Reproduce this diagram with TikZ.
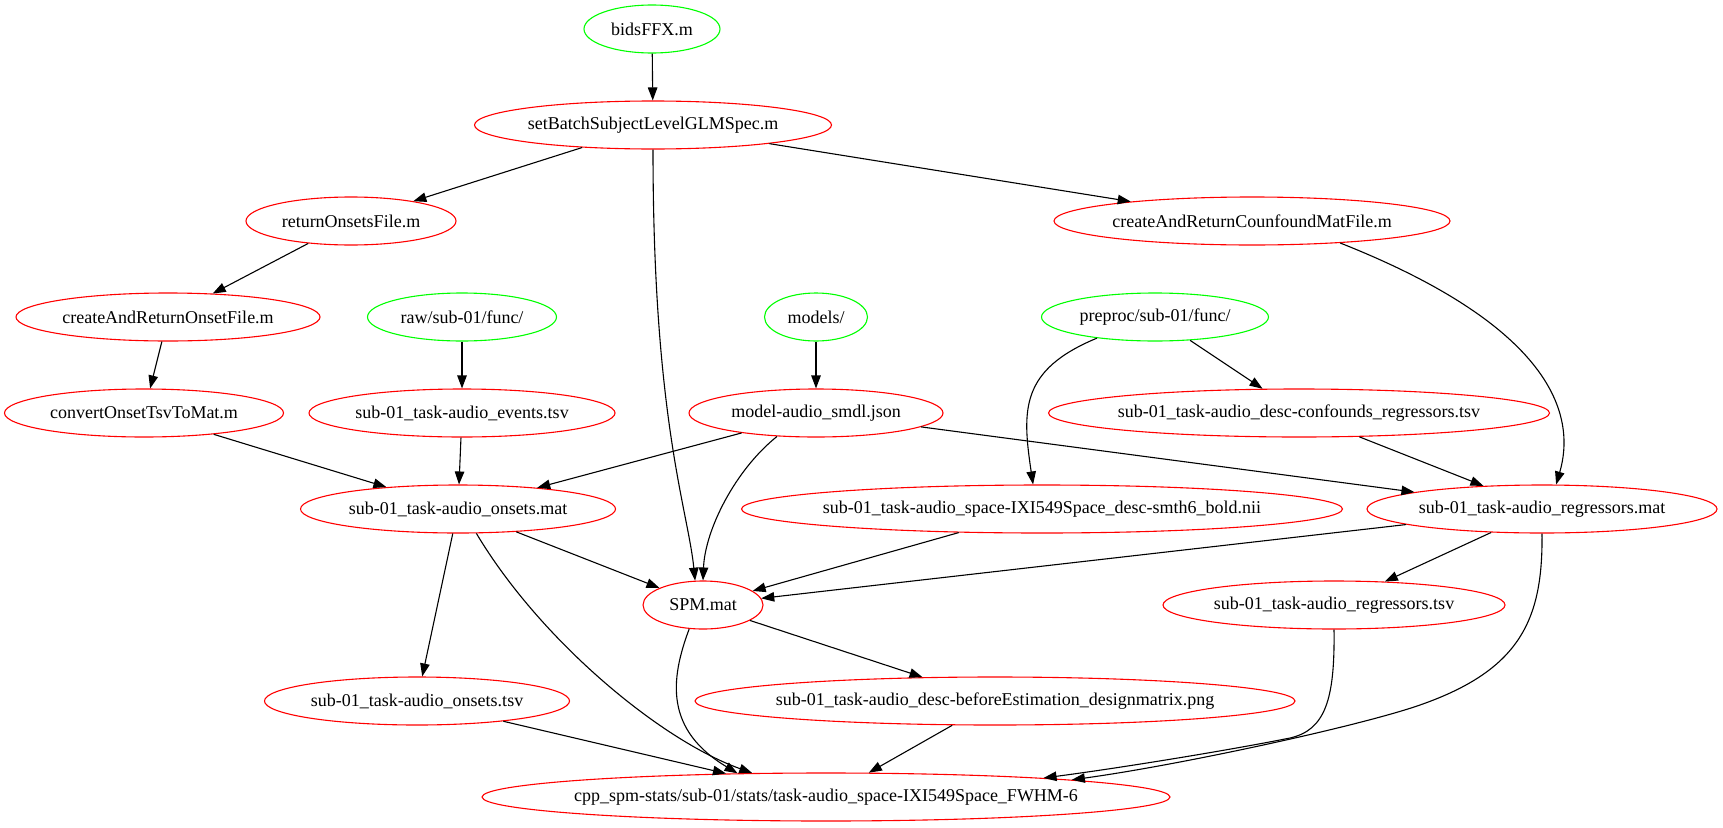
\documentclass[tikz,border=0pt]{standalone}
\usepackage{fontspec}
\setmainfont{Liberation Serif}
\usetikzlibrary{arrows.meta, shapes.geometric}
\definecolor{gvred}{RGB}{255,0,0}
\definecolor{gvgreen}{RGB}{0,255,0}

\begin{document}
\begin{tikzpicture}[
    x=1pt, y=-1pt,
    file/.style={ellipse, draw=gvred, line width=1.1pt, inner xsep=-60pt, inner ysep=0pt, minimum height=48pt, font=\fontsize{18}{20}\selectfont},
    input/.style={file, draw=gvgreen},
    arr/.style={-{Triangle[length=13pt, width=9.5pt]}, line width=1.1pt},
]
\useasboundingbox (0,0) rectangle (1723,827);

% Scripts and source folders
\node[input, minimum width=136pt] (bids) at (652,29) {bidsFFX.m};
\node[file, minimum width=357pt] (glmspec) at (653,125) {setBatchSubjectLevelGLMSpec.m};
\node[file, minimum width=210pt] (getonsets) at (351,221) {returnOnsetsFile.m};
\node[file, minimum width=396pt] (mkconf) at (1252,221) {createAndReturnCounfoundMatFile.m};
\node[file, minimum width=304pt] (mkonset) at (168,317) {createAndReturnOnsetFile.m};
\node[input, minimum width=189pt] (rawdir) at (462,317) {raw/sub-01/func/};
\node[input, minimum width=103pt] (modeldir) at (816,317) {models/};
\node[input, minimum width=227pt] (prepdir) at (1155,317) {preproc/sub-01/func/};
\node[file, minimum width=279pt] (tsv2mat) at (144,413) {convertOnsetTsvToMat.m};

% Data files
\node[file, minimum width=306pt] (events) at (462,413) {sub-01\_task-audio\_events.tsv};
\node[file, minimum width=254pt] (smdl) at (816,413) {model-audio\_smdl.json};
\node[file, minimum width=501pt] (confounds) at (1299,413) {sub-01\_task-audio\_desc-confounds\_regressors.tsv};
\node[file, minimum width=315pt] (onsetsmat) at (458,509) {sub-01\_task-audio\_onsets.mat};
\node[file, minimum width=601pt] (bold) at (1042,509) {sub-01\_task-audio\_space-IXI549Space\_desc-smth6\_bold.nii};
\node[file, minimum width=350pt] (regmat) at (1542,509) {sub-01\_task-audio\_regressors.mat};
\node[file, minimum width=120pt] (spm) at (703,605) {SPM.mat};
\node[file, minimum width=342pt] (regtsv) at (1334,605) {sub-01\_task-audio\_regressors.tsv};
\node[file, minimum width=305pt] (onsetstsv) at (417,701) {sub-01\_task-audio\_onsets.tsv};
\node[file, minimum width=600pt] (designpng) at (995,701) {sub-01\_task-audio\_desc-beforeEstimation\_designmatrix.png};
\node[file, minimum width=688pt] (statsdir) at (826,797) {cpp\_spm-stats/sub-01/stats/task-audio\_space-IXI549Space\_FWHM-6};

% Call chain
\draw[arr] (bids) -- (glmspec);
\draw[arr] (glmspec) -- (getonsets);
\draw[arr] (glmspec) -- (mkconf);
\draw[arr] (glmspec.south) .. controls (653,420) and (688,510) .. (spm.108);
\draw[arr] (getonsets) -- (mkonset);
\draw[arr] (mkonset) -- (tsv2mat);
\draw[arr] (mkconf.-14) .. controls (1560,330) and (1575,420) .. (regmat.60);

% Inputs
\draw[arr] (rawdir) -- (events);
\draw[arr] (modeldir) -- (smdl);
\draw[arr] (prepdir) -- (confounds);
\draw[arr] (prepdir.200) .. controls (1020,370) and (1022,410) .. (bold.110);

% Onsets and regressors
\draw[arr] (tsv2mat) -- (onsetsmat);
\draw[arr] (events) -- (onsetsmat);
\draw[arr] (smdl) -- (onsetsmat);
\draw[arr] (smdl) -- (regmat);
\draw[arr] (confounds) -- (regmat);
\draw[arr] (smdl.211) .. controls (735,470) and (705,530) .. (spm.north);

% SPM.mat inputs
\draw[arr] (onsetsmat) -- (spm);
\draw[arr] (bold) -- (spm);
\draw[arr] (regmat) -- (spm);
\draw[arr] (regmat) -- (regtsv);
\draw[arr] (onsetsmat) -- (onsetstsv);
\draw[arr] (spm) -- (designpng);

% Stats folder
\draw[arr] (onsetstsv) -- (statsdir);
\draw[arr] (designpng) -- (statsdir);
\draw[arr] (onsetsmat.-53) .. controls (540,640) and (660,740) .. (statsdir.162);
\draw[arr] (spm.240) .. controls (670,680) and (665,730) .. (statsdir.165);
\draw[arr] (regmat.south) .. controls (1543,620) and (1520,670) .. (1420,705)
  .. controls (1360,726) and (1180,765) .. (statsdir.4);
\draw[arr] (regtsv.south) .. controls (1335,700) and (1325,730) .. (1290,738)
  .. controls (1230,750) and (1120,768) .. (statsdir.5);
\end{tikzpicture}
\end{document}
